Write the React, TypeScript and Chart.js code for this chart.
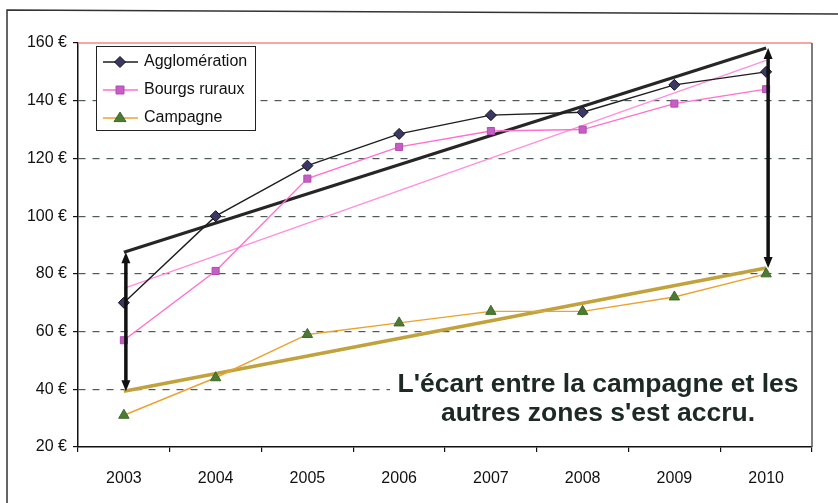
import React, { useEffect, useRef } from "react";
import { Chart, registerables } from "chart.js";
Chart.register(...registerables);

const years = ["2003", "2004", "2005", "2006", "2007", "2008", "2009", "2010"];
const agglomeration = [70, 100, 117.5, 128.5, 135, 136, 145.5, 150];
const bourgsRuraux = [57, 81, 113, 124, 129.5, 130, 139, 144];
const campagne = [31, 44, 59, 63, 67, 67, 72, 80];
// trend line end values (2003, 2010)
const trendAgglomeration = [87.5, 158.3];
const trendBourgs = [75, 154];
const trendCampagne = [39.3, 82];
const legendLabels = ["Agglomération", "Bourgs ruraux", "Campagne"];
const noteLines = ["L'écart entre la campagne et les", "autres zones s'est accru."];

const FONT = "'Liberation Sans', Arial, sans-serif";

const endsOnly = (t: number[]) =>
  years.map((_, i) => (i === 0 ? t[0] : i === years.length - 1 ? t[1] : null));

const styles = {
  agglo: { line: "#1e1e1e", fill: "#3b3868", border: "#111111", style: "rectRot", r: 5.5 },
  bourgs: { line: "#ff6fcf", fill: "#c55ec5", border: "#b04cb0", style: "rect", r: 5 },
  camp: { line: "#eba22e", fill: "#4c7c33", border: "#3c6a28", style: "triangle", r: 6 },
};

function drawArrow(ctx: CanvasRenderingContext2D, x: number, yTop: number, yBot: number) {
  const head = 11, hw = 4.5;
  ctx.save();
  ctx.strokeStyle = "#111";
  ctx.fillStyle = "#111";
  ctx.lineWidth = 3.5;
  ctx.beginPath();
  ctx.moveTo(x, yTop + head - 2);
  ctx.lineTo(x, yBot - head + 2);
  ctx.stroke();
  ctx.beginPath();
  ctx.moveTo(x, yTop);
  ctx.lineTo(x - hw, yTop + head);
  ctx.lineTo(x + hw, yTop + head);
  ctx.closePath();
  ctx.fill();
  ctx.beginPath();
  ctx.moveTo(x, yBot);
  ctx.lineTo(x - hw, yBot - head);
  ctx.lineTo(x + hw, yBot - head);
  ctx.closePath();
  ctx.fill();
  ctx.restore();
}

const decorPlugin = {
  id: "decor",
  beforeDatasetsDraw(chart: any) {
    const { ctx, chartArea } = chart;
    ctx.save();
    // white box behind the note (hides the grid lines there)
    ctx.fillStyle = "#fff";
    ctx.fillRect(chartArea.left + 312, chartArea.bottom - 96, chartArea.right - chartArea.left - 312, 95);
    // red top border
    ctx.strokeStyle = "#f48a84";
    ctx.lineWidth = 1.5;
    ctx.beginPath();
    ctx.moveTo(chartArea.left, chartArea.top);
    ctx.lineTo(chartArea.right, chartArea.top);
    ctx.stroke();
    // right border
    ctx.strokeStyle = "#555";
    ctx.lineWidth = 1.5;
    ctx.beginPath();
    ctx.moveTo(chartArea.right, chartArea.top);
    ctx.lineTo(chartArea.right, chartArea.bottom);
    ctx.stroke();
    ctx.restore();
  },
  afterDatasetsDraw(chart: any) {
    const { ctx, chartArea } = chart;
    const xs = chart.scales.x, ys = chart.scales.y;
    // arrows
    const x0 = xs.getPixelForValue(0) + 2;
    const x1 = xs.getPixelForValue(years.length - 1) + 2;
    drawArrow(ctx, x0, ys.getPixelForValue(trendAgglomeration[0]), ys.getPixelForValue(trendCampagne[0]));
    drawArrow(ctx, x1, ys.getPixelForValue(trendAgglomeration[1]), ys.getPixelForValue(trendCampagne[1]));

    // legend
    const lx = chartArea.left + 18, ly = chartArea.top + 3, lw = 159, lh = 84;
    ctx.save();
    ctx.fillStyle = "#fff";
    ctx.fillRect(lx, ly, lw, lh);
    ctx.strokeStyle = "#222";
    ctx.lineWidth = 1;
    ctx.strokeRect(lx + 0.5, ly + 0.5, lw, lh);
    const st = [styles.agglo, styles.bourgs, styles.camp];
    ctx.font = `16px ${FONT}`;
    ctx.textBaseline = "middle";
    st.forEach((s, i) => {
      const y = ly + 16 + i * 28;
      ctx.strokeStyle = s.line;
      ctx.lineWidth = 1.5;
      ctx.beginPath();
      ctx.moveTo(lx + 7, y);
      ctx.lineTo(lx + 42, y);
      ctx.stroke();
      ctx.fillStyle = s.fill;
      ctx.strokeStyle = s.border;
      ctx.lineWidth = 1;
      const cx = lx + 24;
      ctx.beginPath();
      if (s.style === "rectRot") {
        ctx.moveTo(cx, y - s.r); ctx.lineTo(cx + s.r, y); ctx.lineTo(cx, y + s.r); ctx.lineTo(cx - s.r, y);
      } else if (s.style === "rect") {
        ctx.rect(cx - s.r * 0.8, y - s.r * 0.8, s.r * 1.6, s.r * 1.6);
      } else {
        ctx.moveTo(cx, y - s.r); ctx.lineTo(cx + s.r, y + s.r * 0.6); ctx.lineTo(cx - s.r, y + s.r * 0.6);
      }
      ctx.closePath();
      ctx.fill();
      ctx.stroke();
      ctx.fillStyle = "#111";
      ctx.fillText(legendLabels[i], lx + 48, y);
    });
    ctx.restore();

    // annotation
    ctx.save();
    ctx.font = `bold 26.5px ${FONT}`;
    ctx.fillStyle = "#1d2923";
    ctx.textAlign = "center";
    ctx.textBaseline = "middle";
    const cx = chartArea.right - 214;
    ctx.fillText(noteLines[0], cx, chartArea.bottom - 62);
    ctx.fillText(noteLines[1], cx, chartArea.bottom - 33);
    ctx.restore();
  },
  afterDraw(chart: any) {
    const { ctx } = chart;
    ctx.save();
    ctx.strokeStyle = "#333";
    ctx.lineWidth = 1.5;
    ctx.beginPath();
    ctx.moveTo(7, 503);
    ctx.lineTo(7, 10);
    ctx.lineTo(838, 14);
    ctx.stroke();
    ctx.restore();
  },
};

export default function App() {
  const ref = useRef<HTMLCanvasElement | null>(null);
  useEffect(() => {
    document.body.style.margin = "0";
    const canvas = ref.current!;
    const mk = (label: string, data: any[], s: any) => ({
      label,
      data,
      borderColor: s.line,
      backgroundColor: s.fill,
      pointBackgroundColor: s.fill,
      pointBorderColor: s.border,
      pointBorderWidth: 1,
      pointStyle: s.style,
      pointRadius: s.r,
      borderWidth: 1.4,
      tension: 0,
      order: 1,
    });
    const trend = (data: any[], color: string, width: number) => ({
      label: "trend",
      data,
      borderColor: color,
      borderWidth: width,
      pointRadius: 0,
      spanGaps: true,
      tension: 0,
      order: 2,
    });
    const chart = new Chart(canvas, {
      type: "line",
      data: {
        labels: years,
        datasets: [
          trend(endsOnly(trendBourgs), "#ff8fdc", 1.4),
          trend(endsOnly(trendCampagne), "#c2a23c", 3.5),
          trend(endsOnly(trendAgglomeration), "#262626", 3.2),
          mk(legendLabels[0], agglomeration, styles.agglo),
          mk(legendLabels[1], bourgsRuraux, styles.bourgs),
          mk(legendLabels[2], campagne, styles.camp),
        ] as any,
      },
      options: {
        responsive: false,
        animation: false,
        layout: { padding: { left: 0, top: 43, right: 26, bottom: 0 } },
        plugins: { legend: { display: false }, tooltip: { enabled: false } },
        scales: {
          x: {
            offset: true,
            grid: { offset: true, drawOnChartArea: false, drawTicks: true, tickLength: 5, color: "#111", lineWidth: 1.2 },
            border: { color: "#111", width: 1.5 },
            ticks: { font: { family: FONT, size: 16 }, color: "#111", padding: 17, maxRotation: 0 },
            afterFit: (s: any) => { s.height = 56; },
          },
          y: {
            min: 20,
            max: 160,
            ticks: {
              stepSize: 20,
              font: { family: FONT, size: 16 },
              color: "#111",
              padding: 6,
              callback: (v: any) => `${v} €`,
            },
            grid: {
              color: (c: any) => (c.tick && (c.tick.value === 160 || c.tick.value === 20) ? "rgba(0,0,0,0)" : "#4f5b5b"),
              tickColor: "#111",
              tickLength: 5,
              lineWidth: 1.2,
            },
            border: { color: "#111", width: 1.5, dash: [7, 7] },
            afterFit: (s: any) => { s.width = 78; },
          },
        },
      },
      plugins: [decorPlugin],
    } as any);
    return () => chart.destroy();
  }, []);
  return (
    <div style={{ position: "absolute", left: 0, top: 0, width: 838, height: 503, background: "#fff" }}>
      <canvas ref={ref} width={838} height={503} style={{ display: "block" }} />
    </div>
  );
}
